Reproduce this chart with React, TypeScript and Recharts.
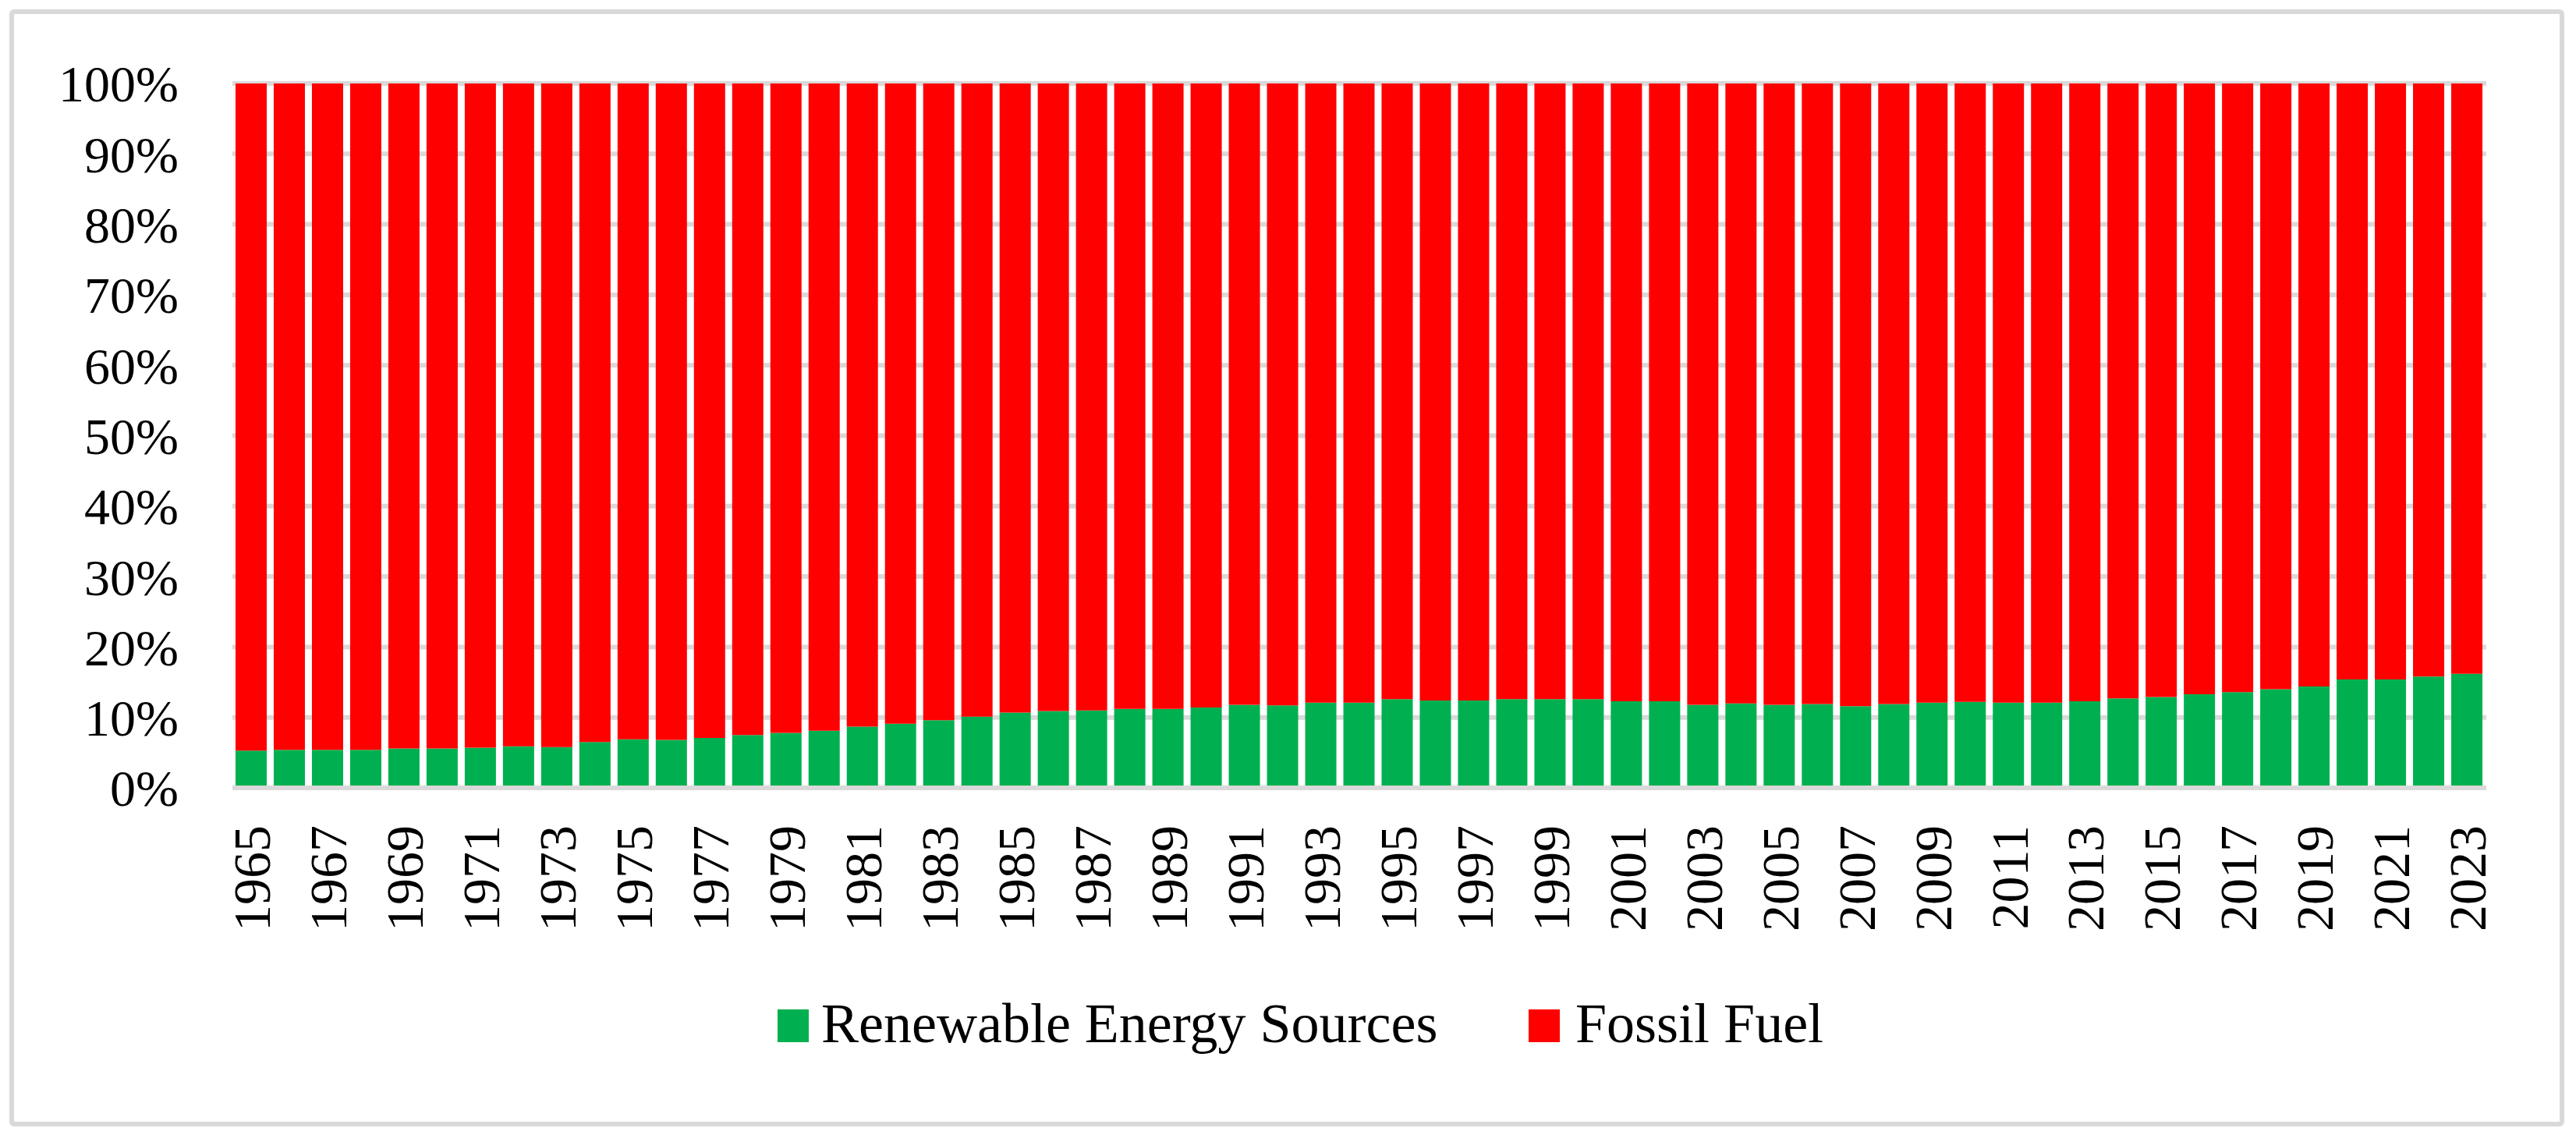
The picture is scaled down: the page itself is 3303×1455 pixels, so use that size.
import React from 'react';
import { BarChart, Bar, XAxis, YAxis, CartesianGrid } from 'recharts';

const years = [
  '1965', '1966', '1967', '1968', '1969', '1970', '1971', '1972', '1973', '1974',
  '1975', '1976', '1977', '1978', '1979', '1980', '1981', '1982', '1983', '1984',
  '1985', '1986', '1987', '1988', '1989', '1990', '1991', '1992', '1993', '1994',
  '1995', '1996', '1997', '1998', '1999', '2000', '2001', '2002', '2003', '2004',
  '2005', '2006', '2007', '2008', '2009', '2010', '2011', '2012', '2013', '2014',
  '2015', '2016', '2017', '2018', '2019', '2020', '2021', '2022', '2023'
];

// share of primary energy, %
const renewable = [
  5.3, 5.4, 5.4, 5.4, 5.6, 5.6, 5.7, 5.9, 5.8, 6.5,
  6.9, 6.8, 7.1, 7.5, 7.8, 8.1, 8.7, 9.1, 9.6, 10.1,
  10.7, 10.9, 11.0, 11.2, 11.2, 11.4, 11.8, 11.7, 12.1, 12.1,
  12.6, 12.4, 12.4, 12.6, 12.6, 12.6, 12.3, 12.3, 11.8, 12.0,
  11.8, 11.9, 11.6, 11.9, 12.1, 12.2, 12.1, 12.1, 12.3, 12.7,
  12.9, 13.3, 13.6, 14.0, 14.4, 15.4, 15.4, 15.8, 16.2
];

const fossil = [
  94.7, 94.6, 94.6, 94.6, 94.4, 94.4, 94.3, 94.1, 94.2, 93.5,
  93.1, 93.2, 92.9, 92.5, 92.2, 91.9, 91.3, 90.9, 90.4, 89.9,
  89.3, 89.1, 89.0, 88.8, 88.8, 88.6, 88.2, 88.3, 87.9, 87.9,
  87.4, 87.6, 87.6, 87.4, 87.4, 87.4, 87.7, 87.7, 88.2, 88.0,
  88.2, 88.1, 88.4, 88.1, 87.9, 87.8, 87.9, 87.9, 87.7, 87.3,
  87.1, 86.7, 86.4, 86.0, 85.6, 84.6, 84.6, 84.2, 83.8
];

const yTicks = [0, 0.1, 0.2, 0.3, 0.4, 0.5, 0.6, 0.7, 0.8, 0.9, 1];

const seriesNames = ['Renewable Energy Sources', 'Fossil Fuel'];
const seriesColors = ['#00b050', '#ff0000'];

const data = years.map((year, i) => ({
  year,
  renewable: renewable[i],
  fossil: fossil[i]
}));

const FONT = '"Liberation Serif", "Times New Roman", serif';

const YearTick = (props: any) => {
  const { x, y, payload } = props;
  return (
    <text
      x={x}
      y={y}
      transform={`rotate(-90, ${x}, ${y})`}
      textAnchor="end"
      dy="0.35em"
      fontFamily={FONT}
      fontSize={68}
      fill="#000"
    >
      {payload.value}
    </text>
  );
};

export default function App() {
  const legendLefts = [997, 1960];

  return (
    <div
      style={{
        position: 'absolute',
        left: 0,
        top: 0,
        width: 3303,
        height: 1455,
        background: '#fff',
        fontFamily: FONT
      }}
    >
      <div
        style={{
          position: 'absolute',
          left: 12,
          top: 12,
          width: 3276,
          height: 1432,
          border: '6px solid #d9d9d9',
          borderRadius: 6,
          boxSizing: 'border-box'
        }}
      />
      <div style={{ position: 'absolute', left: 0, top: 0 }}>
        <BarChart
          width={3303}
          height={1455}
          data={data}
          stackOffset="expand"
          margin={{ top: 107, right: 115, bottom: 185, left: 0 }}
        >
          <CartesianGrid vertical={false} stroke="#d9d9d9" strokeWidth={6} />
          <XAxis
            dataKey="year"
            interval={1}
            height={260}
            axisLine={{ stroke: '#d9d9d9', strokeWidth: 6 }}
            tickLine={false}
            tickSize={6}
            tickMargin={42}
            tick={<YearTick />}
          />
          <YAxis
            width={298}
            domain={[0, 1]}
            ticks={yTicks}
            axisLine={false}
            tickLine={false}
            tickSize={6}
            tickMargin={63}
            tickFormatter={(v: number) => `${Math.round(v * 100)}%`}
            tick={{ fontFamily: FONT, fontSize: 66, fill: '#000' }}
          />
          <Bar
            dataKey="renewable"
            name={seriesNames[0]}
            stackId="a"
            fill={seriesColors[0]}
            barSize={40}
            isAnimationActive={false}
          />
          <Bar
            dataKey="fossil"
            name={seriesNames[1]}
            stackId="a"
            fill={seriesColors[1]}
            barSize={40}
            isAnimationActive={false}
          />
        </BarChart>
      </div>
      {seriesNames.map((name, i) => (
        <div
          key={name}
          style={{
            position: 'absolute',
            left: legendLefts[i],
            top: 1276,
            height: 72,
            display: 'flex',
            alignItems: 'center'
          }}
        >
          <span
            style={{
              display: 'inline-block',
              width: 40,
              height: 42,
              marginTop: 6,
              background: seriesColors[i],
              marginRight: i === 0 ? 16 : 20
            }}
          />
          <span style={{ fontSize: 72, lineHeight: '72px', color: '#000', whiteSpace: 'nowrap' }}>
            {name}
          </span>
        </div>
      ))}
    </div>
  );
}
